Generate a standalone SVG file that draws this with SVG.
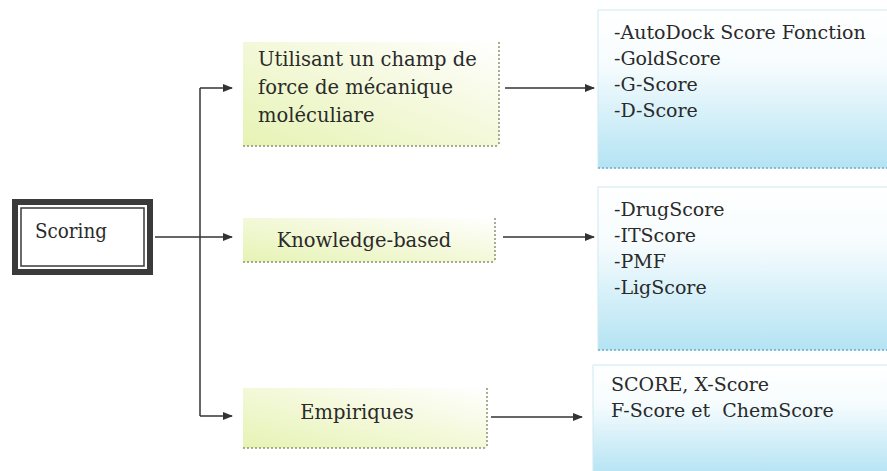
<svg xmlns="http://www.w3.org/2000/svg" width="887" height="471" viewBox="0 0 887 471">
<defs>
  <linearGradient id="gGreen" x1="0" y1="1" x2="1" y2="0">
    <stop offset="0" stop-color="#e6f3b4"/>
    <stop offset="0.55" stop-color="#f4f9dc"/>
    <stop offset="1" stop-color="#ffffff"/>
  </linearGradient>
  <linearGradient id="gBlue" x1="0" y1="0" x2="0" y2="1">
    <stop offset="0" stop-color="#ffffff"/>
    <stop offset="0.35" stop-color="#f6fcfe"/>
    <stop offset="1" stop-color="#b4e3f3"/>
  </linearGradient>
  <marker id="arr" markerWidth="10" markerHeight="8" refX="9" refY="4" orient="auto" markerUnits="userSpaceOnUse">
    <path d="M0,0 L10,4 L0,8 z" fill="#333"/>
  </marker>
</defs>
<style>
  .lt { font-size: 19.5px; }
  .rt { font-size: 19px; }
  .green { fill: url(#gGreen); }
  .gdot { stroke: #8a9470; stroke-width: 1.5; stroke-dasharray: 2 2; fill: none; }
  .blue { fill: url(#gBlue); stroke: #cde9f2; stroke-width: 1; }
  .bdot { stroke: #6aaccc; stroke-width: 1.5; stroke-dasharray: 2 2; fill: none; }
  .conn { stroke: #333; stroke-width: 1.5; fill: none; }
</style>
<rect width="887" height="471" fill="#ffffff"/>
<g font-family="'DejaVu Serif', serif" fill="#2a2a2a">
<g id="scoring">
  <rect x="15" y="202" width="135" height="70" fill="#ffffff" stroke="#3a3a3a" stroke-width="6"/>
  <rect x="21" y="208" width="123" height="58" fill="none" stroke="#3a3a3a" stroke-width="1.5"/>
  <text class="lt" x="35" y="238" textLength="72" lengthAdjust="spacingAndGlyphs">Scoring</text>
</g>

<g id="node-champ">
  <rect class="green" x="243" y="42" width="256" height="104"/>
  <path class="gdot" d="M499,42 V146 M243,146 H499"/>
  <text class="lt" x="258" y="66">Utilisant un champ de</text>
  <text class="lt" x="258" y="94">force de mécanique</text>
  <text class="lt" x="258" y="122">moléculiare</text>
</g>

<g id="node-knowledge">
  <rect class="green" x="243" y="218" width="252" height="44"/>
  <path class="gdot" d="M495,218 V262 M243,262 H495"/>
  <text class="lt" x="364" y="247" text-anchor="middle">Knowledge-based</text>
</g>

<g id="node-empiriques">
  <rect class="green" x="243" y="388" width="244" height="60"/>
  <path class="gdot" d="M487,388 V448 M243,448 H487"/>
  <text class="lt" x="357" y="419" text-anchor="middle">Empiriques</text>
</g>

<g id="list-champ">
  <rect class="blue" x="598" y="10" width="295" height="158"/>
  <path class="bdot" d="M598,168 H887"/>
  <text class="rt" x="614" y="39">-AutoDock Score Fonction</text>
  <text class="rt" x="614" y="65">-GoldScore</text>
  <text class="rt" x="614" y="91">-G-Score</text>
  <text class="rt" x="614" y="117">-D-Score</text>
</g>

<g id="list-knowledge">
  <rect class="blue" x="598" y="187" width="295" height="163"/>
  <path class="bdot" d="M598,350 H887"/>
  <text class="rt" x="614" y="216">-DrugScore</text>
  <text class="rt" x="614" y="242">-ITScore</text>
  <text class="rt" x="614" y="268">-PMF</text>
  <text class="rt" x="614" y="294">-LigScore</text>
</g>

<g id="list-empiriques">
  <rect class="blue" x="593" y="365" width="300" height="110"/>
  <text class="rt" x="611" y="391">SCORE, X-Score</text>
  <text class="rt" x="611" y="417" xml:space="preserve">F-Score et  ChemScore</text>
</g>
</g>
<g id="connectors">
  <path class="conn" d="M155,237 H232" marker-end="url(#arr)"/>
  <path class="conn" d="M200,88 V416"/>
  <path class="conn" d="M200,88 H232" marker-end="url(#arr)"/>
  <path class="conn" d="M200,416 H232" marker-end="url(#arr)"/>
  <path class="conn" d="M505,88 H594" marker-end="url(#arr)"/>
  <path class="conn" d="M503,237 H594" marker-end="url(#arr)"/>
  <path class="conn" d="M491,417 H582" marker-end="url(#arr)"/>
</g>
</svg>
